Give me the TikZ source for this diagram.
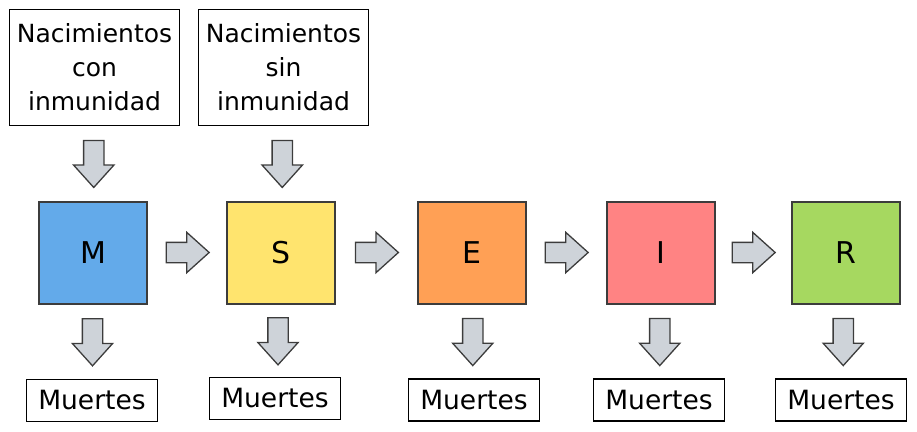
\documentclass[tikz,border=0pt]{standalone}
\usepackage{fontspec}
\setmainfont{DejaVu Sans}
\usetikzlibrary{shapes.arrows,calc}
\definecolor{mblue}{RGB}{99,170,234}
\definecolor{syellow}{RGB}{255,228,110}
\definecolor{eorange}{RGB}{255,160,85}
\definecolor{ired}{RGB}{255,131,131}
\definecolor{rgreen}{RGB}{166,216,96}
\definecolor{flowgray}{RGB}{206,211,217}
\definecolor{edgegray}{RGB}{60,60,60}
\tikzset{
  state/.style={draw=edgegray,line width=2pt,minimum width=108pt,minimum height=102pt,font=\fontsize{30}{36}\selectfont},
  source/.style={draw,line width=1.3pt,minimum width=170pt,minimum height=116pt,align=center,font=\fontsize{25}{34}\selectfont},
  sink/.style={draw,line width=1.3pt,minimum width=131pt,minimum height=42pt,font=\fontsize{26.5}{30}\selectfont},
  flow/.style={single arrow,draw=edgegray,fill=flowgray,line width=1.3pt,inner xsep=0pt,inner ysep=9.5pt,single arrow head extend=10pt,single arrow tip angle=84,anchor=tail},
  flowr/.style={flow,minimum height=43pt},
  flowd/.style={flow,minimum height=47pt,rotate=-90}
}
\begin{document}
\begin{tikzpicture}[x=1pt,y=-1pt]
  \useasboundingbox (0,0) rectangle (917,431);
  \draw
    (94.5,67.5) node[source] (nc){Nacimientos\\con\\inmunidad}
    (283.5,67.5) node[source] (ns){Nacimientos\\sin\\inmunidad}
    (93,252.5) node[state,fill=mblue] (M){M}
    (281,252.5) node[state,fill=syellow] (S){S}
    (471.5,252.5) node[state,fill=eorange] (E){E}
    (660.5,252.5) node[state,fill=ired] (I){I}
    (845.5,252.5) node[state,fill=rgreen] (R){R}
    (92,400.5) node[sink] (dM){Muertes}
    (275,398.5) node[sink] (dS){Muertes}
    (474,400) node[sink] (dE){Muertes}
    (659,400) node[sink] (dI){Muertes}
    (841,400) node[sink] (dR){Muertes};
  \begin{scope}
    \node[flowd] at ($(nc.south)!0.5!(M.north)+(0,-23.5)$) {};
    \node[flowd] at ($(ns.south)!0.5!(S.north)+(0,-23.5)$) {};
    \node[flowr] at ($(M.east)!0.5!(S.west)+(-21.5,0)$) {};
    \node[flowr] at ($(S.east)!0.5!(E.west)+(-21.5,0)$) {};
    \node[flowr] at ($(E.east)!0.5!(I.west)+(-21.5,0)$) {};
    \node[flowr] at ($(I.east)!0.5!(R.west)+(-21.5,0)$) {};
    \node[flowd] at ($(M.south)!0.5!(dM.north)+(0,-23.5)$) {};
    \node[flowd] at ($(S.south)!0.5!(dS.north)+(0,-23.5)$) {};
    \node[flowd] at ($(E.south)!0.5!(dE.north)+(0,-23.5)$) {};
    \node[flowd] at ($(I.south)!0.5!(dI.north)+(0,-23.5)$) {};
    \node[flowd] at ($(R.south)!0.5!(dR.north)+(0,-23.5)$) {};
  \end{scope}
\end{tikzpicture}
\end{document}
